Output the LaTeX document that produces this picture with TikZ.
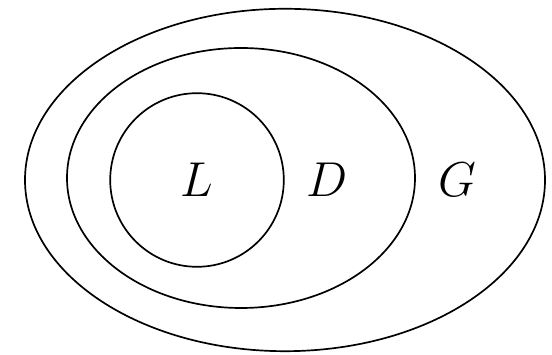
\documentclass[tikz,border=0pt]{standalone}
\begin{document}
\begin{tikzpicture}[every node/.style={font=\Huge, scale=1.4}]
	\useasboundingbox (0,0) rectangle (13.8,8.875);
	\draw[line width=1.2pt] (7.125,4.375) ellipse (6.5 and 4.28);
	\draw[line width=1.2pt] (6.025,4.425) ellipse (4.35 and 3.25);
	\draw[line width=1.2pt] (4.925,4.375) circle (2.17);
	\node (lang) at (4.925,4.375) {$L$};
	\node (dom) at (8.175,4.375) {$D$};
	\node (glob) at (11.425,4.375) {$G$};
\end{tikzpicture}
\end{document}
